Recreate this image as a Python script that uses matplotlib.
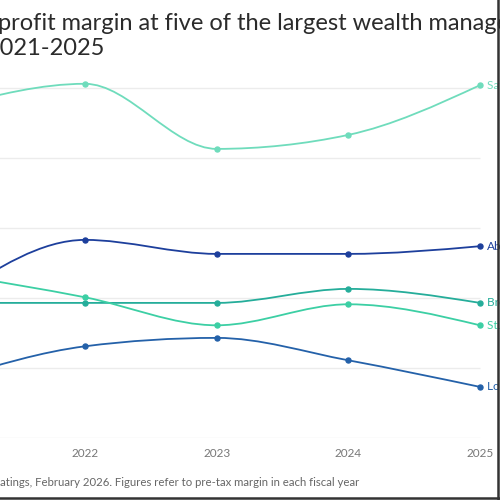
import numpy as np
import matplotlib
matplotlib.use("Agg")
import matplotlib.pyplot as plt
from matplotlib.path import Path
from matplotlib.patches import PathPatch
from matplotlib.lines import Line2D

# pre-tax profit margin (%)
years = [2021, 2022, 2023, 2024, 2025]
names = ["Safra Sarasin", "Aberdeen", "Brown Shipley", "St. James's Place", "Lombard Odier"]
margin_s = [47.4, 50.6, 41.3, 43.3, 50.4]
margin_a = [20.2, 28.3, 26.3, 26.3, 27.4]
margin_b = [19.3, 19.3, 19.3, 21.3, 19.3]
margin_st = [23.4, 20.1, 16.1, 19.1, 16.1]
margin_l = [8.5, 13.1, 14.3, 11.1, 7.3]
series = [margin_s, margin_a, margin_b, margin_st, margin_l]
colors = ["#6fdcbc", "#1d3f9c", "#25ad9a", "#3ccfa4", "#2461a9"]
grid_vals = [0, 10, 20, 30, 40, 50]
tick_years = [2022, 2023, 2024, 2025]

title_1 = "profit margin at five of the largest wealth managers"
title_2 = "2021-2025"
footer = "ratings, February 2026. Figures refer to pre-tax margin in each fiscal year"

plt.rcParams["font.family"] = ["Lato", "DejaVu Sans"]


def monotone_path(x, y):
    # same shape as a monotone-x cubic curve
    x = np.asarray(x, float)
    y = np.asarray(y, float)
    h = np.diff(x)
    s = np.diff(y) / h
    t = np.zeros(len(x))
    for i in range(1, len(x) - 1):
        p = (s[i - 1] * h[i] + s[i] * h[i - 1]) / (h[i - 1] + h[i])
        t[i] = (np.sign(s[i - 1]) + np.sign(s[i])) * min(abs(s[i - 1]), abs(s[i]), 0.5 * abs(p))
    t[0] = (3 * s[0] - t[1]) / 2
    t[-1] = (3 * s[-1] - t[-2]) / 2
    verts = [(x[0], y[0])]
    codes = [Path.MOVETO]
    for i in range(len(x) - 1):
        dx = (x[i + 1] - x[i]) / 3
        verts += [(x[i] + dx, y[i] + dx * t[i]),
                  (x[i + 1] - dx, y[i + 1] - dx * t[i + 1]),
                  (x[i + 1], y[i + 1])]
        codes += [Path.CURVE4] * 3
    return Path(verts, codes)


fig = plt.figure(figsize=(5, 5), dpi=100)
# the view is a crop: 2021 sits just off the left edge
ax = fig.add_axes([0, 0.124, 1, 0.876])
ax.set_xlim(2021.354, 2025.152)
ax.set_ylim(0, 62.57)
for sp in ax.spines.values():
    sp.set_visible(False)
ax.set_yticks([])
ax.set_xticks(tick_years)
ax.set_xticklabels([str(y) for y in tick_years], fontsize=8.5, color="#777777")
ax.tick_params(axis="x", length=0, pad=7)

ax.hlines(grid_vals, 2021, 2025, colors="#ececec", lw=1, zorder=0)

for vals, name, c in zip(series, names, colors):
    ax.add_patch(PathPatch(monotone_path(years, vals), facecolor="none",
                           edgecolor=c, lw=1.3, zorder=2))
    ax.plot(years, vals, ls="none", marker="o", ms=3.6, color=c, zorder=3)
    ax.text(2025.053, vals[-1], name, fontsize=8.5, color=c,
            va="center", ha="left", clip_on=False)

# texts cut by the left edge of the view
renderer = fig.canvas.get_renderer()


def cut_text(full, hidden, y, **kw):
    a = fig.text(0, y, full, **kw)
    b = fig.text(0, y, full[len(hidden):], **kw)
    off = a.get_window_extent(renderer).width - b.get_window_extent(renderer).width
    b.remove()
    a.set_x(-off / 500)
    return a


fig.text(-0.003, 1 - 30.5 / 500, title_1, fontsize=17, color="#2b2b2b", va="baseline")
cut_text(title_2, "2", 1 - 55 / 500, fontsize=17, color="#2b2b2b", va="baseline")
cut_text(footer, "r", 1 - 482 / 500, fontsize=8.2, color="#666666", va="center")

# dark frame on the right and bottom of the view
fig.add_artist(Line2D([0.9965, 0.9965], [0, 1], color="#333333", lw=1.8))
fig.add_artist(Line2D([0, 1], [0.005, 0.005], color="#333333", lw=1.8))

fig.savefig("out.png", dpi=100)
